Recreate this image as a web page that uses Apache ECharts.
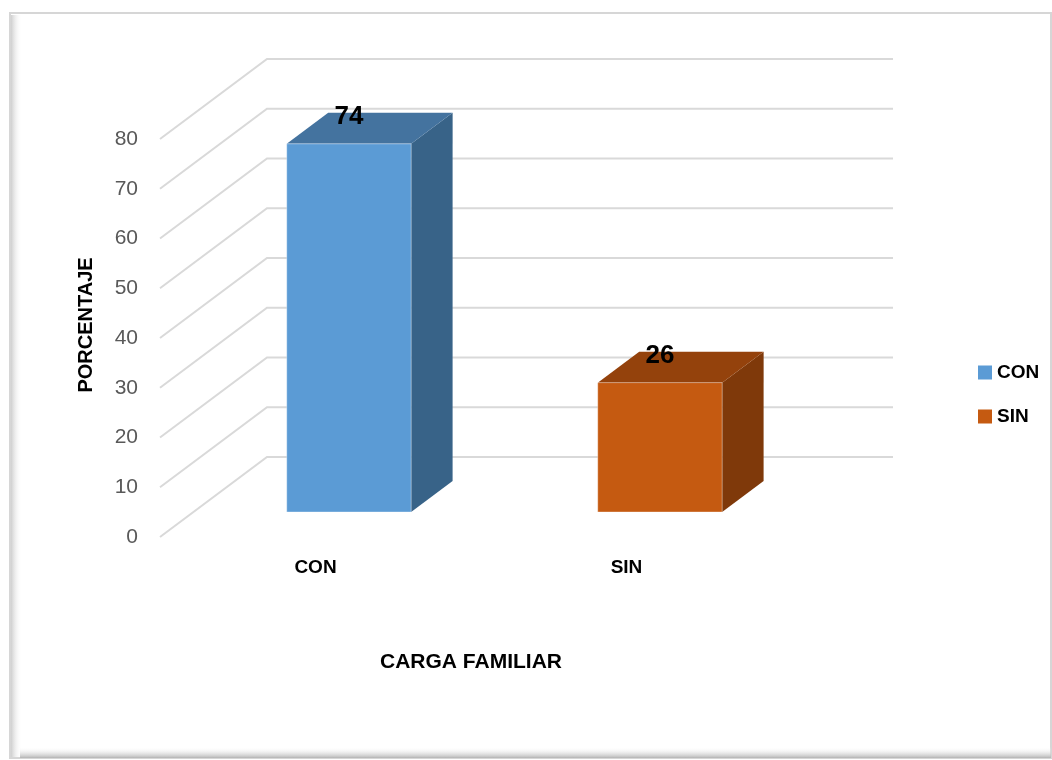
<!DOCTYPE html>
<html>
<head>
<meta charset="utf-8">
<title>Carga familiar</title>
<script src="https://cdn.jsdelivr.net/npm/echarts/dist/echarts.min.js"></script>
<style>
  html, body { margin: 0; padding: 0; background: #fff; }
  #main { width: 1052px; height: 760px; }
</style>
</head>
<body>
<div id="main"></div>
<script>
// datos
const categories = ['CON', 'SIN'];
const values = [74, 26];
const yTicks = [0, 10, 20, 30, 40, 50, 60, 70, 80];

// profundidad 3D (desde el plano de etiquetas hasta la pared del fondo)
const DX = 107, DY = -80;
const F1 = 0.3125, F2 = 0.7;   // cara frontal / trasera de las barras
const FONT = 'Liberation Sans';

const faceColors = {
    CON: { front: '#5B9BD5', top: '#44739F', side: '#386388' },
    SIN: { front: '#C55A11', top: '#94420C', side: '#7F390A' }
};

let myChart = echarts.init(document.getElementById('main'));

// pared del fondo + lineas diagonales de la pared izquierda
function renderWall(params, api) {
    let cs = params.coordSys;
    let p = api.coord([0, api.value(1)]);
    let x0 = cs.x;
    let y0 = p[1];
    return {
        type: 'polyline',
        silent: true,
        shape: {
            points: [[x0, y0], [x0 + DX, y0 + DY], [cs.x + cs.width + DX + 4, y0 + DY]]
        },
        style: { stroke: '#d9d9d9', lineWidth: 2, fill: null }
    };
}

function renderBar(params, api) {
    let idx = api.value(0);
    let val = api.value(1);
    let base = api.coord([idx, 0]);
    let top = api.coord([idx, val]);
    let w = api.size([1, 0])[0] * 0.4;
    let c = faceColors[categories[idx]];

    let l = base[0] - w / 2 + DX * F1;
    let r = base[0] + w / 2 + DX * F1;
    let yb = base[1] + DY * F1;
    let yt = top[1] + DY * F1;
    let ddx = DX * (F2 - F1);
    let ddy = DY * (F2 - F1);

    return {
        type: 'group',
        children: [
            {
                type: 'polygon',
                shape: { points: [[r, yt], [r + ddx, yt + ddy], [r + ddx, yb + ddy], [r, yb]] },
                style: { fill: c.side }
            },
            {
                type: 'polygon',
                shape: { points: [[l, yt], [l + ddx, yt + ddy], [r + ddx, yt + ddy], [r, yt]] },
                style: { fill: c.top }
            },
            {
                type: 'rect',
                shape: { x: l, y: yt, width: r - l, height: yb - yt },
                style: { fill: c.front, stroke: 'rgba(255,255,255,0.35)', lineWidth: 1 }
            },
            {
                type: 'text',
                x: (l + r) / 2,
                y: yt - 27,
                style: {
                    text: String(val),
                    fill: '#000',
                    font: 'bold 26px "' + FONT + '"',
                    align: 'center',
                    verticalAlign: 'middle'
                }
            }
        ]
    };
}

function barSeries(i) {
    return {
        type: 'custom',
        name: categories[i],
        z: 3,
        itemStyle: { color: faceColors[categories[i]].front },
        encode: { x: 0, y: 1 },
        data: [[i, values[i]]],
        renderItem: renderBar
    };
}

myChart.setOption({
    animation: false,
    backgroundColor: '#fff',
    graphic: [
        // marco del grafico
        {
            type: 'rect', z: -10, silent: true,
            shape: { x: 10, y: 13, width: 1041, height: 745 },
            style: { fill: '#fff', stroke: '#d6d6d6', lineWidth: 2 }
        },
        {
            type: 'rect', z: -9, silent: true,
            shape: { x: 11, y: 15, width: 11, height: 742 },
            style: {
                fill: new echarts.graphic.LinearGradient(0, 0, 1, 0, [
                    { offset: 0, color: '#cfcfcf' },
                    { offset: 1, color: 'rgba(255,255,255,0)' }
                ])
            }
        },
        {
            type: 'rect', z: -9, silent: true,
            shape: { x: 20, y: 747, width: 1031, height: 11 },
            style: {
                fill: new echarts.graphic.LinearGradient(0, 0, 0, 1, [
                    { offset: 0, color: 'rgba(255,255,255,0)' },
                    { offset: 1, color: '#b5b5b5' }
                ])
            }
        },
        {
            type: 'text',
            x: 86, y: 325,
            rotation: Math.PI / 2,
            style: {
                text: 'PORCENTAJE',
                fill: '#000',
                font: 'bold 20px "' + FONT + '"',
                align: 'center',
                verticalAlign: 'middle'
            }
        }
    ],
    legend: {
        data: categories,
        orient: 'vertical',
        left: 973,
        top: 358,
        icon: 'rect',
        itemWidth: 14,
        itemHeight: 14,
        itemGap: 25,
        textStyle: { color: '#000', fontSize: 19, fontWeight: 'bold', fontFamily: FONT }
    },
    grid: { left: 160, top: 139, width: 622, height: 398 },
    xAxis: {
        type: 'category',
        data: categories,
        name: 'CARGA FAMILIAR',
        nameLocation: 'middle',
        nameGap: 115,
        nameTextStyle: { color: '#000', fontSize: 21, fontWeight: 'bold', fontFamily: FONT },
        axisLine: { show: false },
        axisTick: { show: false },
        axisLabel: { color: '#000', fontSize: 19, fontWeight: 'bold', fontFamily: FONT, margin: 21 },
        splitLine: { show: false }
    },
    yAxis: {
        type: 'value',
        min: 0,
        max: 80,
        interval: 10,
        axisLine: { show: false },
        axisTick: { show: false },
        axisLabel: { color: '#595959', fontSize: 21, fontFamily: FONT, margin: 22 },
        splitLine: { show: false }
    },
    series: [
        {
            type: 'custom',
            name: 'pared',
            z: 1,
            silent: true,
            encode: { x: 0, y: 1 },
            data: yTicks.map(function (v) { return [0, v]; }),
            renderItem: renderWall
        },
        barSeries(0),
        barSeries(1)
    ]
});
</script>
</body>
</html>
